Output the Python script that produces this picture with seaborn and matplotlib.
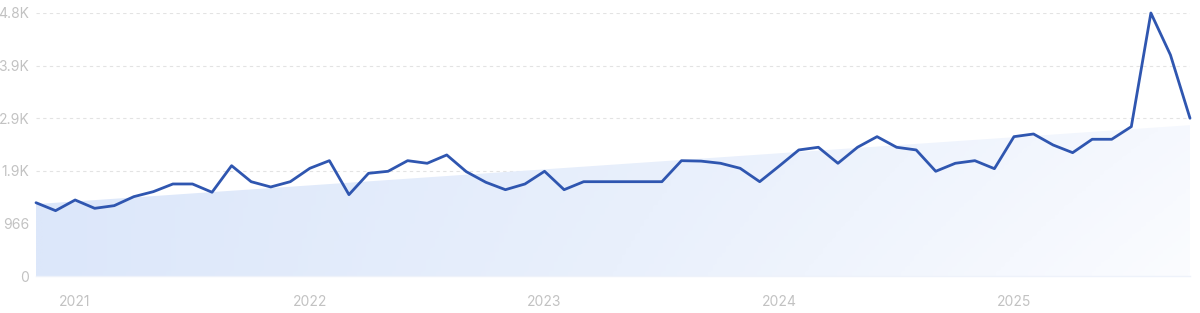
import numpy as np
import pandas as pd
import matplotlib
matplotlib.use("Agg")
import matplotlib.pyplot as plt
from matplotlib.colors import LinearSegmentedColormap
import seaborn as sns

# ---- data ----
months = pd.date_range("2020-11-01", periods=60, freq="MS")
values = [1346, 1200, 1396, 1243, 1292, 1457, 1549, 1690, 1690, 1538,
          2026, 1732, 1635, 1732, 1978, 2118, 1494, 1886, 1923, 2118,
          2070, 2223, 1916, 1721, 1585, 1690, 1923, 1585, 1732, 1732,
          1732, 1732, 1732, 2118, 2110, 2070, 1978, 1732, 2020, 2315,
          2364, 2070, 2364, 2559, 2364, 2315, 1923, 2070, 2118, 1971,
          2559, 2608, 2406, 2265, 2511, 2511, 2743, 4830, 4060, 2897]
trend_start = 1320
trend_end = 2770
y_ticks = [0, 966, 1932, 2898, 3864, 4830]
y_tick_labels = ["0", "966", "1.9K", "2.9K", "3.9K", "4.8K"]
year_labels = ["2021", "2022", "2023", "2024", "2025"]

df = pd.DataFrame({"month": months, "value": values})
df["idx"] = np.arange(len(df))
trend = np.linspace(trend_start, trend_end, len(df))

sns.set_theme(style="white")
plt.rcParams["font.family"] = ["Inter", "DejaVu Sans"]

fig = plt.figure(figsize=(12, 3.13), dpi=100)
ax = fig.add_axes([36 / 1200, 37 / 313, (1190 - 36) / 1200, (276 - 13) / 313])

# gradient-filled trend area (bluish at left, fading to white at right/bottom)
poly = ax.fill_between(df["idx"], 0, trend, color="none", lw=0)
cmap = LinearSegmentedColormap.from_list("g", ["#dce7fa", "#e9f0fc", "#fbfcff"])
gx = np.linspace(0, 1, 256)
gy = np.linspace(0, 1, 64)
GX, GY = np.meshgrid(gx, gy)
grad = np.clip(0.85 * GX + 0.15 * (1 - GY) * GX, 0, 1)
im = ax.imshow(grad, extent=[0, len(df) - 1, 0, trend_end], aspect="auto",
               cmap=cmap, origin="lower", zorder=1, vmin=0, vmax=1)
im.set_clip_path(poly.get_paths()[0], transform=ax.transData)

# grid lines
for t in y_ticks[1:]:
    ax.axhline(t, color="#e3e3e3", lw=0.8, ls=(0, (3, 3)), zorder=0.5)

sns.lineplot(data=df, x="idx", y="value", ax=ax, color="#2f56b0", lw=2,
             zorder=3, clip_on=False)

ax.set_xlim(0, len(df) - 1)
ax.set_ylim(0, 4830)
ax.set_yticks(y_ticks)
ax.set_yticklabels(y_tick_labels)
year_pos = [i for i, m in enumerate(months) if m.month == 1]
ax.set_xticks(year_pos)
ax.set_xticklabels(year_labels)
ax.set_xlabel("")
ax.set_ylabel("")
ax.tick_params(axis="both", length=0, colors="#c2c2c2", labelsize=10)
ax.tick_params(axis="x", pad=14)
ax.tick_params(axis="y", pad=5)
for s in ["top", "right", "left"]:
    ax.spines[s].set_visible(False)
ax.spines["bottom"].set_color("#eef2fa")
ax.spines["bottom"].set_linewidth(1)

fig.savefig("out.png", dpi=100)
